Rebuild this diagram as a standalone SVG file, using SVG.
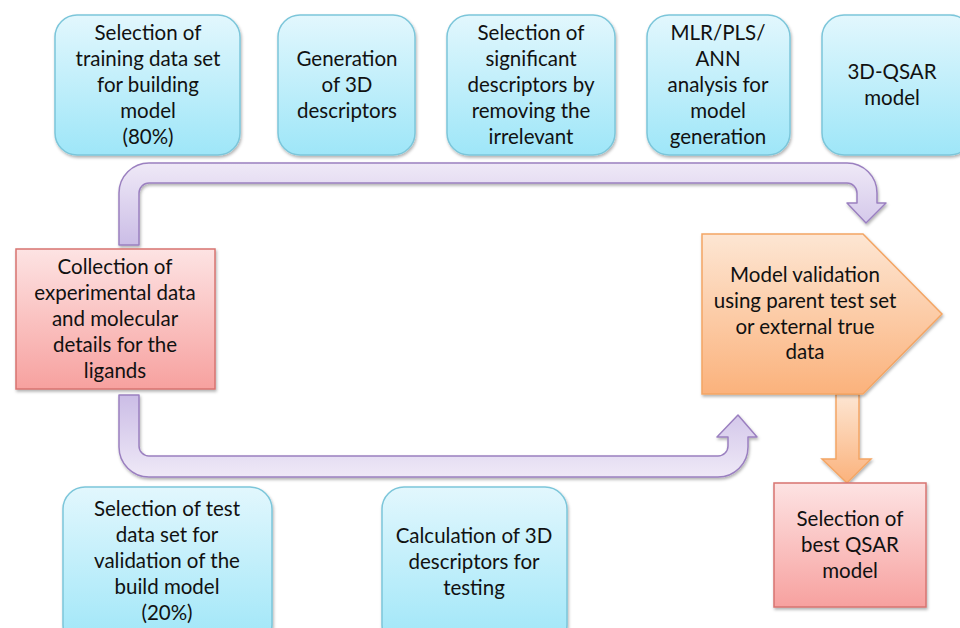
<svg xmlns="http://www.w3.org/2000/svg" width="960" height="628" viewBox="0 0 960 628">
  <defs>
    <linearGradient id="gCyan" x1="0" y1="0" x2="0" y2="1">
      <stop offset="0" stop-color="#e2f7fd"/>
      <stop offset="1" stop-color="#9ee6f8"/>
    </linearGradient>
    <linearGradient id="gPink" x1="0" y1="0" x2="0" y2="1">
      <stop offset="0" stop-color="#fde3e3"/>
      <stop offset="1" stop-color="#f7a19f"/>
    </linearGradient>
    <linearGradient id="gOrange" x1="0" y1="0" x2="0" y2="1">
      <stop offset="0" stop-color="#fde6d3"/>
      <stop offset="1" stop-color="#fbb27c"/>
    </linearGradient>
    <linearGradient id="gPurpleTop" x1="0" y1="0" x2="0" y2="1">
      <stop offset="0" stop-color="#efe9f7"/>
      <stop offset="1" stop-color="#cbbde6"/>
    </linearGradient>
    <linearGradient id="gPurpleBot" x1="0" y1="1" x2="0" y2="0">
      <stop offset="0" stop-color="#efe9f7"/>
      <stop offset="1" stop-color="#cbbde6"/>
    </linearGradient>
    <filter id="shadow" x="-10%" y="-10%" width="120%" height="125%">
      <feDropShadow dx="1" dy="2" stdDeviation="1.5" flood-color="#000" flood-opacity="0.3"/>
    </filter>
  </defs>
  <style>
    .cyan { fill: url(#gCyan); stroke: #7cc6da; stroke-width: 1.5; filter: url(#shadow); }
    .pink { fill: url(#gPink); stroke: #d77470; stroke-width: 1.5; filter: url(#shadow); }
    .orange { fill: url(#gOrange); stroke: #f3a564; stroke-width: 1.5; filter: url(#shadow); }
    .band { stroke: #9b80c0; stroke-width: 1.5; stroke-linejoin: round; filter: url(#shadow); }
    text { font-family: "Lato", "Open Sans", "Liberation Sans", sans-serif; font-size: 20.5px; fill: #111111; text-anchor: middle; }
  </style>

  <rect width="960" height="628" fill="#ffffff"/>

  <g id="connectors">
    <!-- upper U-turn arrow from the collection box to model validation -->
    <path class="band" fill="url(#gPurpleTop)" d="M119,245 L119,193 A30,30 0 0 1 149,163 L847,163 A30,30 0 0 1 877,193 L877,203 L886,203 L866,223 L847,203 L857,203 L857,193 A10,10 0 0 0 847,183 L149,183 A10,10 0 0 0 139,193 L139,245 Z"/>
    <!-- lower U-turn arrow from the collection box to model validation -->
    <path class="band" fill="url(#gPurpleBot)" d="M119,395 L119,447 A30,30 0 0 0 149,477 L718,477 A30,30 0 0 0 748,447 L748,437 L757,437 L738,415 L717,437 L728,437 L728,446 A10,10 0 0 1 718,456 L149,456 A10,10 0 0 1 139,446 L139,395 Z"/>
    <!-- validation to best model -->
    <polygon class="orange" points="836,394 859,394 859,459 871,459 847,483 822,459 836,459"/>
  </g>

  <g id="training-set">
    <rect class="cyan" x="55" y="15" width="185" height="140" rx="22"/>
    <text x="148"><tspan x="148" y="40">Selection of</tspan><tspan x="148" y="66">training data set</tspan><tspan x="148" y="92">for building</tspan><tspan x="148" y="118">model</tspan><tspan x="148" y="144">(80%)</tspan></text>
  </g>

  <g id="gen-descriptors">
    <rect class="cyan" x="278" y="15" width="137" height="140" rx="22"/>
    <text x="347"><tspan x="347" y="66">Generation</tspan><tspan x="347" y="92">of 3D</tspan><tspan x="347" y="118">descriptors</tspan></text>
  </g>

  <g id="significant-descriptors">
    <rect class="cyan" x="447" y="15" width="168" height="140" rx="22"/>
    <text x="531"><tspan x="531" y="40">Selection of</tspan><tspan x="531" y="66">significant</tspan><tspan x="531" y="92">descriptors by</tspan><tspan x="531" y="118">removing the</tspan><tspan x="531" y="144">irrelevant</tspan></text>
  </g>

  <g id="analysis">
    <rect class="cyan" x="647" y="15" width="143" height="140" rx="22"/>
    <text x="718"><tspan x="718" y="40">MLR/PLS/</tspan><tspan x="718" y="66">ANN</tspan><tspan x="718" y="92">analysis for</tspan><tspan x="718" y="118">model</tspan><tspan x="718" y="144">generation</tspan></text>
  </g>

  <g id="qsar-model">
    <rect class="cyan" x="822" y="15" width="150" height="140" rx="22"/>
    <text x="892"><tspan x="892" y="79">3D-QSAR</tspan><tspan x="892" y="105">model</tspan></text>
  </g>

  <g id="collection">
    <rect class="pink" x="16" y="249" width="199" height="140"/>
    <text x="115"><tspan x="115" y="274">Collection of</tspan><tspan x="115" y="300">experimental data</tspan><tspan x="115" y="326">and molecular</tspan><tspan x="115" y="352">details for the</tspan><tspan x="115" y="378">ligands</tspan></text>
  </g>

  <g id="validation">
    <polygon class="orange" points="702,234 863,234 942,314 863,394 702,394"/>
    <text x="805"><tspan x="805" y="282">Model validation</tspan><tspan x="805" y="308">using parent test set</tspan><tspan x="805" y="334">or external true</tspan><tspan x="805" y="359">data</tspan></text>
  </g>

  <g id="best-model">
    <rect class="pink" x="774" y="483" width="152" height="124"/>
    <text x="850"><tspan x="850" y="526">Selection of</tspan><tspan x="850" y="552">best QSAR</tspan><tspan x="850" y="578">model</tspan></text>
  </g>

  <g id="test-set">
    <rect class="cyan" x="63" y="487" width="209" height="160" rx="22"/>
    <text x="167"><tspan x="167" y="516">Selection of test</tspan><tspan x="167" y="542">data set for</tspan><tspan x="167" y="568">validation of the</tspan><tspan x="167" y="594">build model</tspan><tspan x="167" y="620">(20%)</tspan></text>
  </g>

  <g id="test-descriptors">
    <rect class="cyan" x="382" y="487" width="185" height="160" rx="22"/>
    <text x="474"><tspan x="474" y="543">Calculation of 3D</tspan><tspan x="474" y="569">descriptors for</tspan><tspan x="474" y="595">testing</tspan></text>
  </g>
</svg>
